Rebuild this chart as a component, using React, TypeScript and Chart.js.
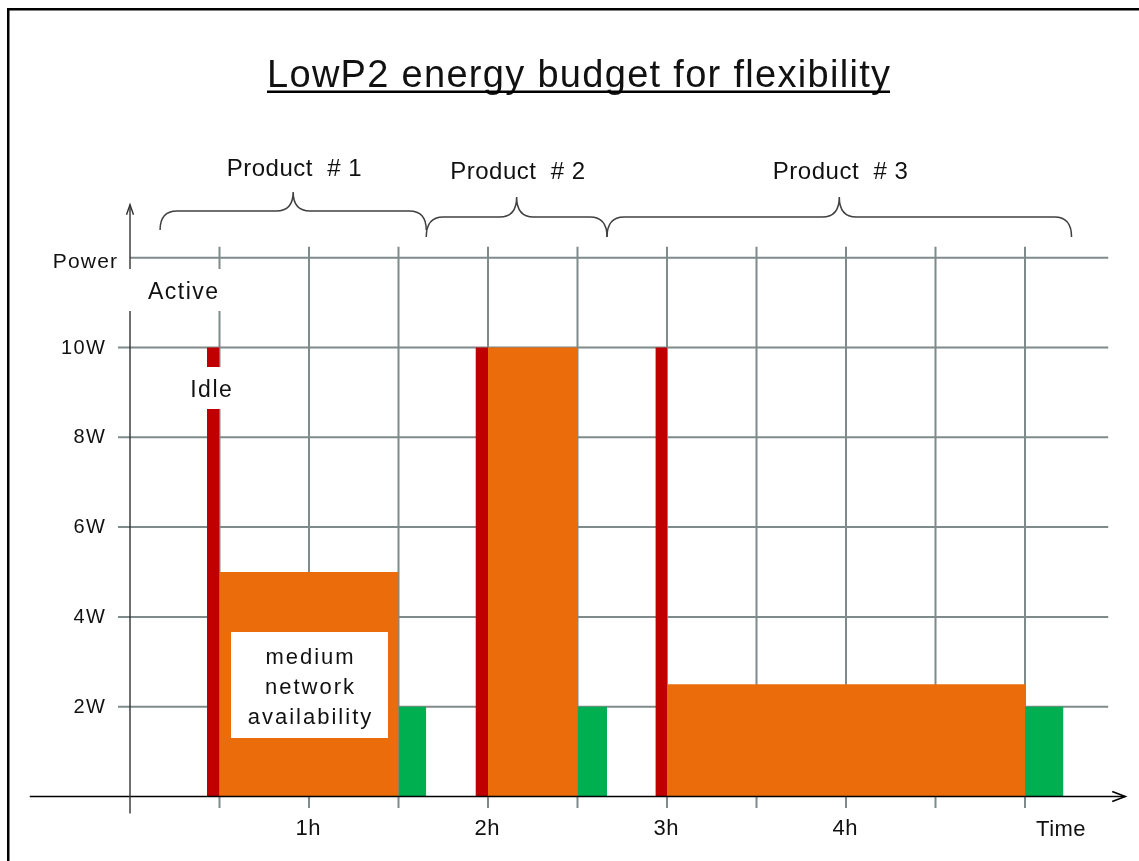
import React, { useEffect, useRef } from 'react';
import { Chart, registerables } from 'chart.js';

Chart.register(...registerables);

const FONT = "'Liberation Sans', Arial, Helvetica, sans-serif";

// ---------- data ----------
const titleText = 'LowP2 energy budget for flexibility';
const hourTicks = [1, 2, 3, 4];
const hourTickLabels = ['1h', '2h', '3h', '4h'];
const timeAxisLabel = 'Time';
const timeAxisLabelHour = 5.2;
const gridHours = [0.5, 1, 1.5, 2, 2.5, 3, 3.5, 4, 4.5, 5];
const gridWatts = [2, 4, 6, 8, 10, 12];
const wattTicks = [2, 4, 6, 8, 10];
const wattTickLabels = ['2W', '4W', '6W', '8W', '10W'];
const powerAxisLabel = 'Power';

// Active (red) peaks
const activeStart = [0.43, 1.93, 2.935];
const activeEnd = [0.5, 2.0, 3.0];
const activePower = [10, 10, 10];
// Flexible operation (orange)
const flexStart = [0.5, 2.0, 3.0];
const flexEnd = [1.5, 2.5, 5.0];
const flexPower = [5, 10, 2.5];
// Idle (green)
const idleStart = [1.5, 2.5, 5.0];
const idleEnd = [1.655, 2.665, 5.215];
const idlePower = [2, 2, 2];

const productNames = ['Product  # 1', 'Product  # 2', 'Product  # 3'];
const productStart = [0.168, 1.655, 2.665];
const productEnd = [1.655, 2.665, 5.26];

const noteLines = ['medium', 'network', 'availability'];

const RED = '#C00000';
const ORANGE = '#EA6C0B';
const GREEN = '#00B050';
const GRID = '#7F8A8A';

function segments(starts: number[], ends: number[], powers: number[], color: string, label: string) {
  return starts.map((s, i) => ({
    label,
    data: [
      { x: s, y: powers[i] },
      { x: ends[i], y: powers[i] },
    ],
    fill: 'origin',
    backgroundColor: color,
    borderColor: 'rgba(0,0,0,0)',
    borderWidth: 0,
    pointRadius: 0,
    pointHoverRadius: 0,
    tension: 0,
  }));
}

function txt(ctx: CanvasRenderingContext2D, s: string, x: number, y: number, size: number, align: 'left' | 'center' | 'right', spacing = 0) {
  ctx.save();
  ctx.font = `${size}px ${FONT}`;
  (ctx as any).letterSpacing = `${spacing}px`;
  ctx.textBaseline = 'alphabetic';
  ctx.textAlign = 'left';
  ctx.fillStyle = '#111';
  const w = ctx.measureText(s).width - spacing;
  let x0 = x;
  if (align === 'center') x0 = x - w / 2;
  else if (align === 'right') x0 = x - w;
  ctx.fillText(s, x0, y);
  ctx.restore();
  return { x0, w };
}

function brace(ctx: CanvasRenderingContext2D, x0: number, x1: number, yEnd: number, yBody: number, yPeak: number) {
  const xm = (x0 + x1) / 2;
  const r = 17;
  ctx.beginPath();
  ctx.moveTo(x0, yEnd);
  ctx.quadraticCurveTo(x0, yBody, x0 + r, yBody);
  ctx.lineTo(xm - r, yBody);
  ctx.quadraticCurveTo(xm, yBody, xm, yPeak);
  ctx.quadraticCurveTo(xm, yBody, xm + r, yBody);
  ctx.lineTo(x1 - r, yBody);
  ctx.quadraticCurveTo(x1, yBody, x1, yEnd);
  ctx.stroke();
}

const decorPlugin = {
  id: 'decor',
  beforeDatasetsDraw(chart: any) {
    const { ctx } = chart;
    const xs = chart.scales.x;
    const ys = chart.scales.y;
    const X = (v: number) => xs.getPixelForValue(v);
    const Y = (v: number) => ys.getPixelForValue(v);
    ctx.save();
    // white page
    ctx.fillStyle = '#fff';
    ctx.fillRect(0, 0, chart.width, chart.height);
    // frame
    ctx.fillStyle = '#000';
    ctx.fillRect(7, 8, chart.width - 7, 2.5);
    ctx.fillRect(7, 8, 2.5, chart.height - 8);
    // grid
    ctx.strokeStyle = GRID;
    ctx.lineWidth = 2;
    const x0 = X(0);
    const xEndGrid = X(5.465);
    const yTopGrid = Y(12) - 11;
    const yBottomTick = Y(0) + 11.5;
    gridHours.forEach((h) => {
      ctx.beginPath();
      ctx.moveTo(X(h), yTopGrid);
      ctx.lineTo(X(h), yBottomTick);
      ctx.stroke();
    });
    gridWatts.forEach((w) => {
      ctx.beginPath();
      ctx.moveTo(w === 12 ? x0 : x0 - 12, Y(w));
      ctx.lineTo(xEndGrid, Y(w));
      ctx.stroke();
    });
    ctx.restore();
  },
  afterDatasetsDraw(chart: any) {
    const { ctx } = chart;
    const xs = chart.scales.x;
    const ys = chart.scales.y;
    const X = (v: number) => xs.getPixelForValue(v);
    const Y = (v: number) => ys.getPixelForValue(v);
    const x0 = X(0);
    const y0 = Y(0);
    ctx.save();

    // x axis with arrow
    ctx.strokeStyle = '#000';
    ctx.lineWidth = 1.6;
    const xAxisStart = X(-0.56);
    const xAxisEnd = X(5.56);
    ctx.beginPath();
    ctx.moveTo(xAxisStart, y0);
    ctx.lineTo(xAxisEnd, y0);
    ctx.stroke();
    ctx.beginPath();
    ctx.moveTo(xAxisEnd - 13, y0 - 5);
    ctx.lineTo(xAxisEnd, y0);
    ctx.lineTo(xAxisEnd - 13, y0 + 5);
    ctx.stroke();

    // y axis with arrow
    ctx.strokeStyle = '#333';
    ctx.lineWidth = 1.4;
    const yAxisTop = Y(12) - 53;
    ctx.beginPath();
    ctx.moveTo(x0, y0 + 17);
    ctx.lineTo(x0, yAxisTop);
    ctx.stroke();
    ctx.beginPath();
    ctx.moveTo(x0 - 3.5, yAxisTop + 10);
    ctx.lineTo(x0, yAxisTop);
    ctx.lineTo(x0 + 3.5, yAxisTop + 10);
    ctx.stroke();

    // white label boxes
    ctx.fillStyle = '#fff';
    ctx.fillRect(x0 - 6, 269, X(0.5) - x0 + 12, 42);
    ctx.fillRect(185, 367, 52, 42);
    ctx.fillRect(231, 632, 157, 106);

    // labels
    txt(ctx, powerAxisLabel, 117, 268, 21, 'right', 1.2);
    txt(ctx, 'Active', 183, 299, 23, 'center', 1.5);
    txt(ctx, 'Idle', 211, 397, 23, 'center', 1.5);
    wattTicks.forEach((w, i) => txt(ctx, wattTickLabels[i], 105, Y(w) + 6, 20, 'right', 1.5));
    hourTicks.forEach((h, i) => txt(ctx, hourTickLabels[i], X(h) - 1, 835, 22, 'center', 0.5));
    txt(ctx, timeAxisLabel, X(timeAxisLabelHour), 836, 22, 'center', 0.5);
    const noteBase = [664, 693.5, 723.5];
    noteLines.forEach((l, i) => txt(ctx, l, 309.5, noteBase[i], 22, 'center', 2));

    // product braces
    ctx.strokeStyle = '#404040';
    ctx.lineWidth = 1.5;
    productNames.forEach((name, i) => {
      const a = X(productStart[i]);
      const b = X(productEnd[i]);
      const first = i === 0;
      const yEnd = first ? 230 : 237;
      const yBody = first ? 211 : 217;
      const yPeak = first ? 192 : 197;
      brace(ctx, a, b, yEnd, yBody, yPeak);
      txt(ctx, name, (a + b) / 2 + 1, first ? 176 : 179, 24, 'center', 0.5);
    });

    // title (underlined)
    const t = txt(ctx, titleText, 578.5, 87, 38, 'center', 1.3);
    ctx.fillStyle = '#000';
    ctx.fillRect(t.x0, 90.5, t.w, 2.5);

    ctx.restore();
  },
};

export default function App() {
  const ref = useRef<HTMLCanvasElement | null>(null);
  useEffect(() => {
    if (!ref.current) return;
    const chart = new Chart(ref.current, {
      type: 'line',
      data: {
        datasets: [
          ...segments(flexStart, flexEnd, flexPower, ORANGE, 'Flexible'),
          ...segments(activeStart, activeEnd, activePower, RED, 'Active'),
          ...segments(idleStart, idleEnd, idlePower, GREEN, 'Idle'),
        ] as any,
      },
      options: {
        responsive: false,
        animation: false,
        events: [],
        layout: {
          padding: {
            left: 130 - 179 * 0.6,
            right: 1139 - (130 + 179 * 5.6),
            top: 796.5 - 44.9 * 14,
            bottom: 861 - (796.5 + 44.9 * 0.5),
          },
        },
        plugins: {
          legend: { display: false },
          tooltip: { enabled: false },
          title: { display: false },
        },
        scales: {
          x: { type: 'linear', min: -0.6, max: 5.6, display: false },
          y: { type: 'linear', min: -0.5, max: 14, display: false },
        },
      } as any,
      plugins: [decorPlugin],
    });
    return () => chart.destroy();
  }, []);
  return (
    <div style={{ position: 'absolute', left: 0, top: 0, width: 1139, height: 861, background: '#fff' }}>
      <canvas ref={ref} width={1139} height={861} style={{ width: 1139, height: 861, display: 'block' }} />
    </div>
  );
}
